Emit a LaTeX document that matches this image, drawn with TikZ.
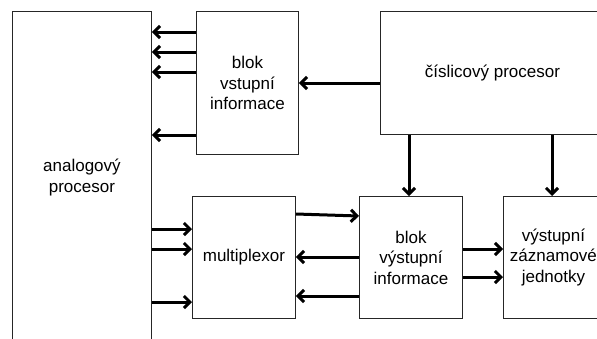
\documentclass[tikz,border=0pt]{standalone}
\usepackage{fontspec}
\setmainfont{Liberation Sans}
\usetikzlibrary{positioning, arrows.meta}

\begin{document}
\begin{tikzpicture}[
    x=1pt, y=-1pt,
    block/.style={rectangle, draw=black!85, line width=0.9pt, anchor=north west, align=center, inner sep=0pt, font=\fontsize{17}{20.5}\selectfont},
    arrow/.style={-{Straight Barb[length=6pt,width=12pt]}, line width=3pt}
]
\useasboundingbox (0,0) rectangle (597,338);
\clip (0,0) rectangle (597,338);

% Bloky
\node[block, minimum width=139pt, minimum height=332pt] (analog) at (12,11) {analogový\\procesor};
\node[block, minimum width=102pt, minimum height=143pt] (vstup) at (196,11) {blok\\vstupní\\informace};
\node[block, minimum width=224pt, minimum height=123pt] (cislic) at (380,11) {číslicový procesor};
\node[block, minimum width=103pt, minimum height=122pt] (mux) at (192,196) {multiplexor};
\node[block, minimum width=103pt, minimum height=122pt] (vystup) at (359,196) {blok\\výstupní\\informace};
\node[block, minimum width=100pt, minimum height=122pt] (zaznam) at (503,196) {výstupní\\záznamové\\jednotky};

% Spoje
\foreach \y in {32,52,72,135}
    \draw[arrow] (vstup.west |- 0,\y) -- (analog.east |- 0,\y);
\draw[arrow] (cislic.west |- 0,83) -- (vstup.east |- 0,83);
\draw[arrow] (cislic.south -| 409,0) -- (vystup.north -| 409,0);
\draw[arrow] (cislic.south -| 552,0) -- (zaznam.north -| 552,0);
\foreach \y in {229,249,302}
    \draw[arrow] (analog.east |- 0,\y) -- (mux.west |- 0,\y);
\draw[arrow] (mux.east |- 0,214) -- (vystup.west |- 0,216);
\foreach \y in {257,296}
    \draw[arrow] (vystup.west |- 0,\y) -- (mux.east |- 0,\y);
\foreach \y in {249,277}
    \draw[arrow] (vystup.east |- 0,\y) -- (zaznam.west |- 0,\y);

\end{tikzpicture}
\end{document}
